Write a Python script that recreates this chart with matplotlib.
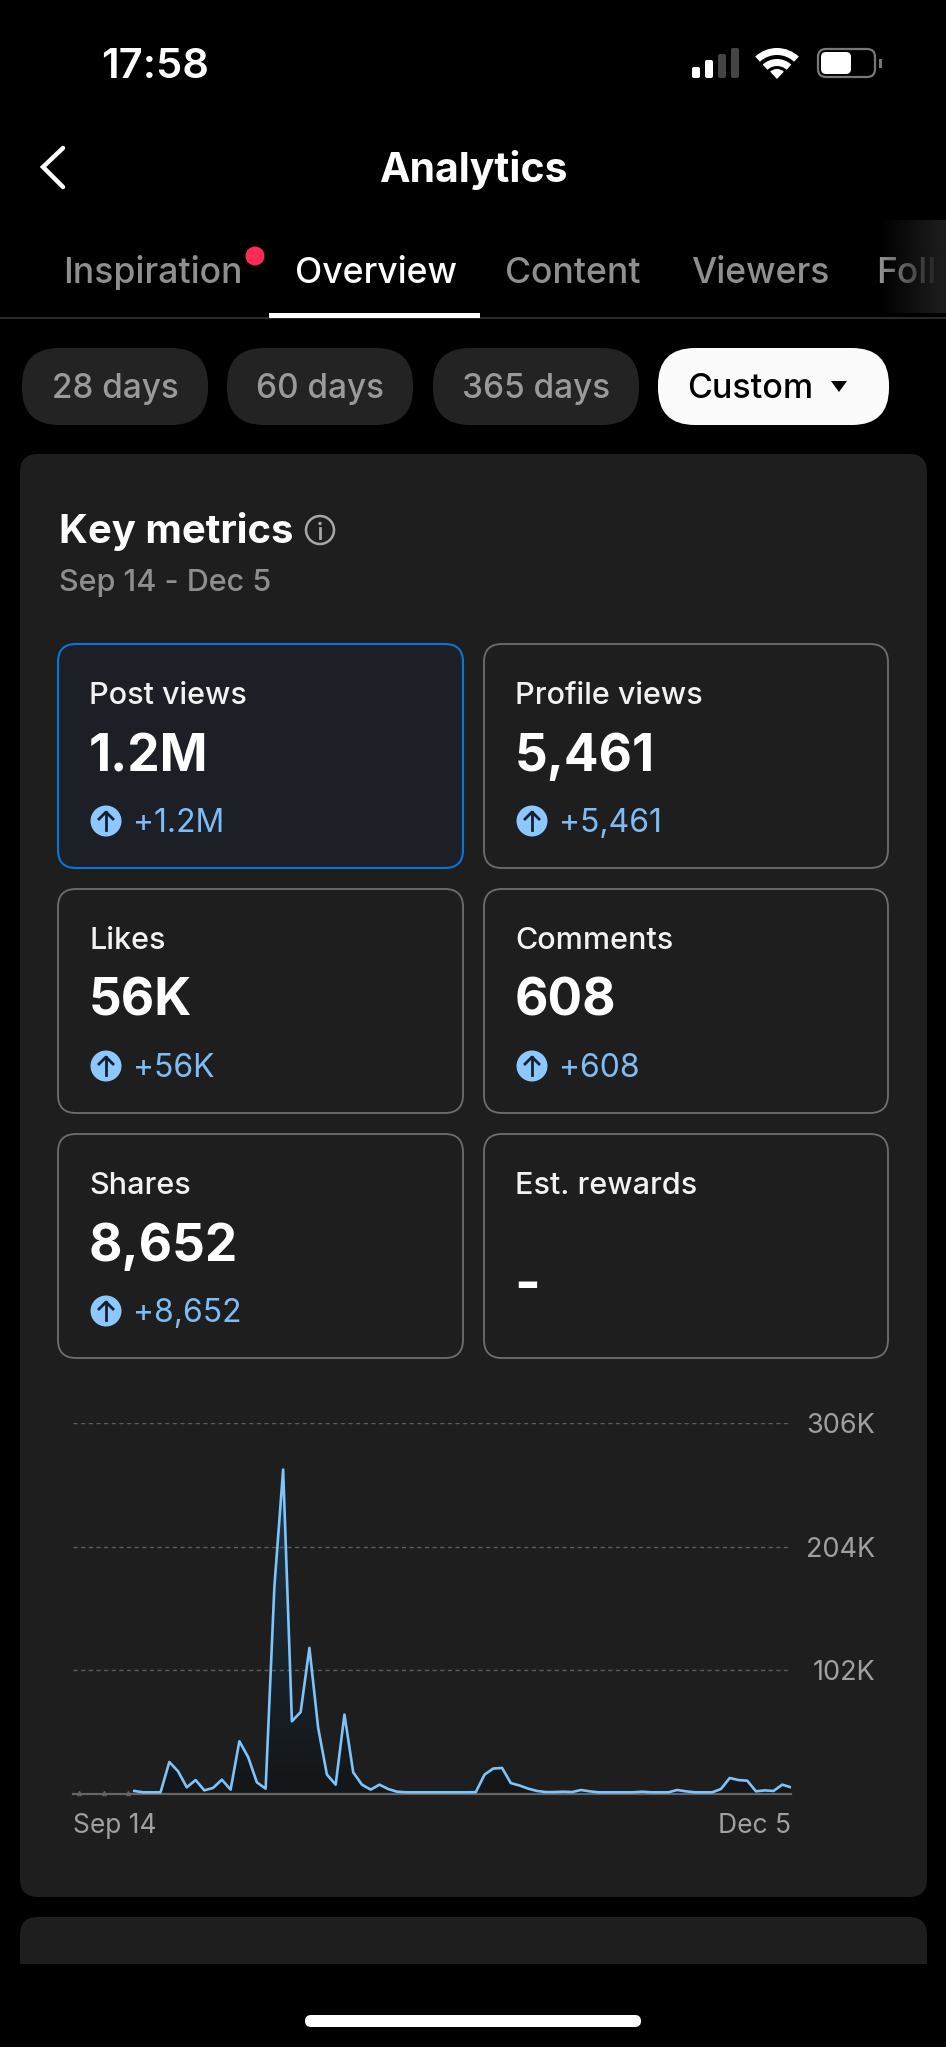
"""
Analytics screen: key metrics cards and the daily post views chart
"""

from matplotlib import pyplot as plt
from matplotlib.patches import FancyBboxPatch, Rectangle, Circle, Wedge, Polygon
import numpy as np

plt.rcParams['font.family'] = ['Inter', 'DejaVu Sans']

W, H = 946, 2047

# chart data, one value per day, the line only starts on day 7
first_day = 7
post_views = [
    2500, 1400, 1400, 1400, 26400, 18700, 5500, 11500, 3000, 5000,
    11800, 3600, 43500, 30500, 9600, 4400, 171000, 267600, 60000, 67600,
    120500, 54500, 16000, 7700, 65500, 17900, 7700, 3600, 7700, 4100,
    1900, 1400, 1400, 1400, 1400, 1400, 1400, 1400, 1400, 1500,
    16000, 21000, 21500, 9000, 7000, 4400, 2500, 1600, 1600, 1900,
    1600, 3300, 2200, 1400, 1400, 1400, 1400, 1400, 1900, 1400,
    1400, 1400, 3300, 2200, 1400, 1400, 1400, 4100, 13200, 11500,
    11000, 2200, 3000, 2500, 7700, 5500,
]
last_day = 82
blip_days = [0.65, 3.5, 6.3]
y_ticks = [102000, 204000, 306000]
y_labels = ['102K', '204K', '306K']
x_labels = ['Sep 14', 'Dec 5']

tabs = ['Inspiration', 'Overview', 'Content', 'Viewers', 'Foll']
tab_x = [63, 295, 505, 691, 876]
pills = ['28 days', '60 days', '365 days']
pill_edges = [(22, 208), (227, 413), (433, 639)]

metric_names = ['Post views', 'Profile views', 'Likes', 'Comments', 'Shares', 'Est. rewards']
metric_values = ['1.2M', '5,461', '56K', '608', '8,652', '-']
metric_deltas = ['+1.2M', '+5,461', '+56K', '+608', '+8,652', None]

fig = plt.figure(figsize=(W / 100, H / 100), dpi=100, facecolor='black')

# whole screen in pixel coordinates
ui = fig.add_axes([0, 0, 1, 1])
ui.set_xlim(0, W)
ui.set_ylim(H, 0)
ui.axis('off')


def round_box(x0, y0, x1, y1, r, fc, ec='none', lw=0, z=1):
    box = FancyBboxPatch((x0 + r, y0 + r), x1 - x0 - 2 * r, y1 - y0 - 2 * r,
                         boxstyle='round,pad={},rounding_size={}'.format(r, r),
                         fc=fc, ec=ec, lw=lw, zorder=z)
    ui.add_patch(box)
    return box


def label(x, y, s, size, color='white', weight='normal', ha='left', z=5):
    return ui.text(x, y, s, fontsize=size, color=color, fontweight=weight,
                   ha=ha, va='baseline', zorder=z)


# status bar
label(101, 78, '17:58', 30, weight='semibold')
bar_boxes = [(692, 67, 'white'), (705, 60, 'white'), (718, 54, '#444444'), (731, 48, '#444444')]
for bx, top, col in bar_boxes:
    round_box(bx, top, bx + 8, 78, 2, col)
ui.add_patch(Wedge((777, 80), 32, 227, 313, width=7, fc='white', ec='none'))
ui.add_patch(Wedge((777, 80), 21, 227, 313, width=7, fc='white', ec='none'))
ui.add_patch(Wedge((777, 79), 10, 227, 313, fc='white', ec='none'))
round_box(818, 49, 875, 77, 8, 'black', ec='#777777', lw=1.6)
round_box(821, 52, 851, 74, 5, 'white', z=2)
ui.add_patch(Rectangle((879, 59), 3, 9, fc='#777777', ec='none'))

# header
ui.plot([63, 43, 63], [148, 167, 187], color='white', lw=3.2, solid_capstyle='round', solid_joinstyle='miter')
label(473, 182, 'Analytics', 29.5, weight='bold', ha='center')

# tabs
for name, tx in zip(tabs, tab_x):
    col = 'white' if name == 'Overview' else '#8f8f8f'
    label(tx, 283, name, 25.6, color=col, weight='medium', z=3)
ui.add_patch(Circle((255, 256), 9.5, fc='#fe2c55', ec='none'))
ui.plot([0, W], [318, 318], color='#333333', lw=1.2)
ui.add_patch(Rectangle((269, 313), 211, 5, fc='white', ec='none', zorder=4))

# fade over the clipped last tab
fade = np.zeros((1, 66, 4))
fade[0, :, 0:3] = 0x1c / 255
fade[0, :, 3] = np.clip(np.linspace(0, 1.1, 66), 0, 1)
ui.imshow(fade, extent=(880, W, 313, 220), aspect='auto', zorder=4)
ui.set_xlim(0, W)
ui.set_ylim(H, 0)

# range pills
for name, (x0, x1) in zip(pills, pill_edges):
    round_box(x0, 348, x1, 425, 37, '#232323')
    label((x0 + x1) / 2, 398, name, 24, color='#9a9a9a', weight='medium', ha='center')
round_box(658, 348, 889, 425, 37, '#fbfbfb')
label(687, 398, 'Custom', 24.5, color='black', weight='medium')
ui.add_patch(Polygon([(831, 381), (847, 381), (839, 392)], fc='black', ec='none', zorder=5))

# cards
round_box(20, 454, 927, 1897, 18, '#1e1e1e')
round_box(20, 1917, 927, 1990, 18, '#1e1e1e')
ui.add_patch(Rectangle((0, 1964), W, 40, fc='black', ec='none', zorder=2))
round_box(305, 2015, 641, 2027, 6, 'white', z=3)

label(59, 543, 'Key metrics', 28.8, weight='bold')
ui.add_patch(Circle((320, 530), 14, fc='none', ec='#a8a8a8', lw=1.8, zorder=5))
ui.add_patch(Circle((320, 523.5), 1.7, fc='#a8a8a8', ec='none', zorder=5))
ui.plot([320, 320], [528, 538], color='#a8a8a8', lw=2, zorder=5)
label(59, 591, 'Sep 14 - Dec 5', 22, color='#8e8e8e', weight='medium')

# metric boxes
col_x = [(58, 463), (484, 888)]
row_y = [644, 889, 1134]
for i, (name, val, delta) in enumerate(zip(metric_names, metric_values, metric_deltas)):
    x0, x1 = col_x[i % 2]
    y0 = row_y[i // 2]
    if i == 0:
        round_box(x0, y0, x1, y0 + 224, 18, '#1c2026', ec='#0a75d9', lw=1.5, z=2)
    else:
        round_box(x0, y0, x1, y0 + 224, 18, '#1e1e1e', ec='#6e6e6e', lw=1.3, z=2)
    tx = x0 + 32
    label(tx - 1, y0 + 60, name, 22, color='#f2f2f2', weight='medium')
    if delta is None:
        label(tx - 2, y0 + 168, val, 40, weight='bold')
        continue
    label(tx - 1, y0 + 127, val, 37, weight='bold')
    cy = y0 + 177
    ui.add_patch(Circle((tx + 16, cy), 15.5, fc='#8cc8ff', ec='none', zorder=5))
    ui.plot([tx + 16, tx + 16], [cy - 9, cy + 9], color='#10202c', lw=2, zorder=6)
    ui.plot([tx + 9, tx + 16, tx + 23], [cy - 2, cy - 9, cy - 2], color='#10202c', lw=2, zorder=6)
    label(tx + 43, y0 + 188, delta, 23, color='#7ebcf5')

# the chart
ax = fig.add_axes([73 / W, 1 - 1794 / H, (791 - 73) / W, (1794 - 1423) / H], facecolor='none')
days = np.arange(first_day, last_day + 1)

shade = ax.fill_between(days, post_views, 0, color='none')
grad = np.zeros((256, 1, 3))
stops = np.linspace(0, 1, 256) ** 0.8
grad[:, 0, 0] = (0x24 + (0x14 - 0x24) * stops) / 255
grad[:, 0, 1] = (0x40 + (0x16 - 0x40) * stops) / 255
grad[:, 0, 2] = (0x56 + (0x18 - 0x56) * stops) / 255
img = ax.imshow(grad, extent=(0, last_day, 0, 306000), aspect='auto', zorder=1)
img.set_clip_path(shade.get_paths()[0], transform=ax.transData)

ax.plot(days, post_views, color='#7cc4fb', lw=1.9, zorder=3, solid_joinstyle='round')
ax.plot(blip_days, [700] * len(blip_days), ls='none', marker='^', ms=3, color='#5a5a5a', zorder=2, clip_on=False)

ax.set_xlim(0, last_day)
ax.set_ylim(0, 306000)
ax.yaxis.tick_right()
ax.set_yticks(y_ticks)
ax.set_yticklabels(y_labels, fontsize=19.5, color='#a0a0a0')
ax.set_xticks([0, last_day])
ax.set_xticklabels(x_labels, fontsize=19, color='#a0a0a0')
ax.tick_params(axis='both', length=0)
ax.tick_params(axis='y', pad=60.5)
ax.tick_params(axis='x', pad=13.5)
for t in ax.get_yticklabels():
    t.set_ha('right')
    t.set_va('center_baseline')
ax.get_xticklabels()[0].set_ha('left')
ax.get_xticklabels()[1].set_ha('right')
ax.grid(axis='y', color='#5c5c5c', lw=1, ls=(0, (3, 2.5)), zorder=0)
for side in ['top', 'left', 'right']:
    ax.spines[side].set_visible(False)
ax.spines['bottom'].set_color('#666666')
ax.spines['bottom'].set_linewidth(1.6)

fig.savefig('out.png', dpi=100, facecolor='black')
